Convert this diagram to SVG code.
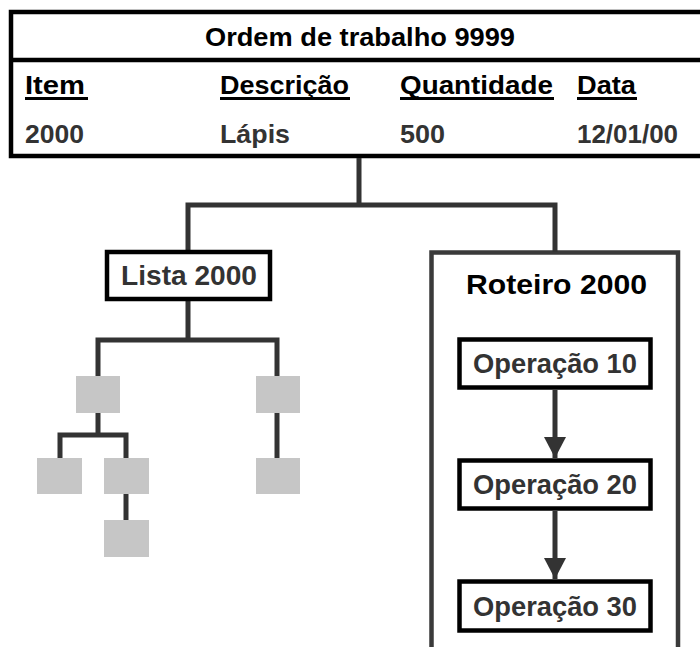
<svg xmlns="http://www.w3.org/2000/svg" width="700" height="647" viewBox="0 0 700 647">
  <style>
    text { font-family: "Liberation Sans", Arial, sans-serif; font-weight: bold; }
    .tbl { font-size: 26px; }
    .hdr { fill: #000; }
    .val { fill: #333; }
    .lbl { font-size: 28px; }
    .op { font-size: 27px; fill: #333; text-anchor: middle; }
    .box { fill: #fff; stroke: #000; stroke-width: 4.5; }
    .conn { fill: none; stroke: #333; stroke-width: 5; }
    .leaf { fill: #c6c6c6; }
    .ul { stroke: #000; stroke-width: 3; }
  </style>
  <defs>
    <marker id="arrow" markerUnits="userSpaceOnUse" markerWidth="22" markerHeight="22" refX="21" refY="11" orient="auto">
      <path d="M0,0 L21,11 L0,22 Z" fill="#333"/>
    </marker>
  </defs>

  <g id="ordem">
    <path d="M720,12 H11 V156 H720" fill="#fff" stroke="#000" stroke-width="4.5"/>
    <line x1="11" y1="60" x2="720" y2="60" stroke="#000" stroke-width="4.5"/>
    <text class="tbl hdr" x="205" y="46" textLength="310" lengthAdjust="spacingAndGlyphs">Ordem de trabalho 9999</text>
    <text class="tbl hdr" x="25" y="94" textLength="60" lengthAdjust="spacingAndGlyphs">Item</text>
    <text class="tbl hdr" x="220" y="94" textLength="129" lengthAdjust="spacingAndGlyphs">Descrição</text>
    <text class="tbl hdr" x="400" y="94" textLength="153" lengthAdjust="spacingAndGlyphs">Quantidade</text>
    <text class="tbl hdr" x="577" y="94" textLength="59" lengthAdjust="spacingAndGlyphs">Data</text>
    <line class="ul" x1="25" y1="98.5" x2="88" y2="98.5"/>
    <line class="ul" x1="220" y1="98.5" x2="350" y2="98.5"/>
    <line class="ul" x1="400" y1="98.5" x2="554" y2="98.5"/>
    <line class="ul" x1="577" y1="98.5" x2="637" y2="98.5"/>
    <text class="tbl val" x="25" y="143" textLength="59" lengthAdjust="spacingAndGlyphs">2000</text>
    <text class="tbl val" x="220" y="143" textLength="70" lengthAdjust="spacingAndGlyphs">Lápis</text>
    <text class="tbl val" x="400" y="143" textLength="45" lengthAdjust="spacingAndGlyphs">500</text>
    <text class="tbl val" x="577" y="143" textLength="101" lengthAdjust="spacingAndGlyphs">12/01/00</text>
  </g>

  <g id="roteiro">
    <path d="M431.5,660 V252.5 H678 V660" fill="none" stroke="#3a3a3a" stroke-width="4.5"/>
    <text class="lbl" x="466" y="294" fill="#000" textLength="181" lengthAdjust="spacingAndGlyphs">Roteiro 2000</text>
  </g>

  <g id="connectors">
    <path class="conn" d="M359,158 V205 M188,252 V205 H555 V252"/>
    <path class="conn" d="M188,300 V340 M98,376 V340 H277 V376"/>
    <path class="conn" d="M98,413 V435 M60,458 V435 H126 V458"/>
    <path class="conn" d="M126,494 V520"/>
    <path class="conn" d="M277,413 V458"/>
    <line class="conn" x1="555" y1="390" x2="555" y2="458" marker-end="url(#arrow)"/>
    <line class="conn" x1="555" y1="511" x2="555" y2="579" marker-end="url(#arrow)"/>
  </g>

  <g id="lista">
    <rect class="box" x="107" y="252" width="163" height="47"/>
    <text class="lbl" x="121" y="285" fill="#333" textLength="136" lengthAdjust="spacingAndGlyphs">Lista 2000</text>
  </g>

  <g id="lista-itens">
    <rect class="leaf" x="76" y="376" width="44" height="37"/>
    <rect class="leaf" x="256" y="376" width="44" height="37"/>
    <rect class="leaf" x="37" y="458" width="45" height="36"/>
    <rect class="leaf" x="104" y="458" width="45" height="36"/>
    <rect class="leaf" x="256" y="458" width="44" height="36"/>
    <rect class="leaf" x="104" y="520" width="45" height="37"/>
  </g>

  <g id="op10">
    <rect class="box" x="459.5" y="339.5" width="191" height="48"/>
    <text class="op" x="555" y="373" textLength="164" lengthAdjust="spacingAndGlyphs">Operação 10</text>
  </g>
  <g id="op20">
    <rect class="box" x="459.5" y="460.5" width="191" height="48"/>
    <text class="op" x="555" y="494" textLength="164" lengthAdjust="spacingAndGlyphs">Operação 20</text>
  </g>
  <g id="op30">
    <rect class="box" x="459.5" y="581.5" width="191" height="49"/>
    <text class="op" x="555" y="616" textLength="164" lengthAdjust="spacingAndGlyphs">Operação 30</text>
  </g>
</svg>
